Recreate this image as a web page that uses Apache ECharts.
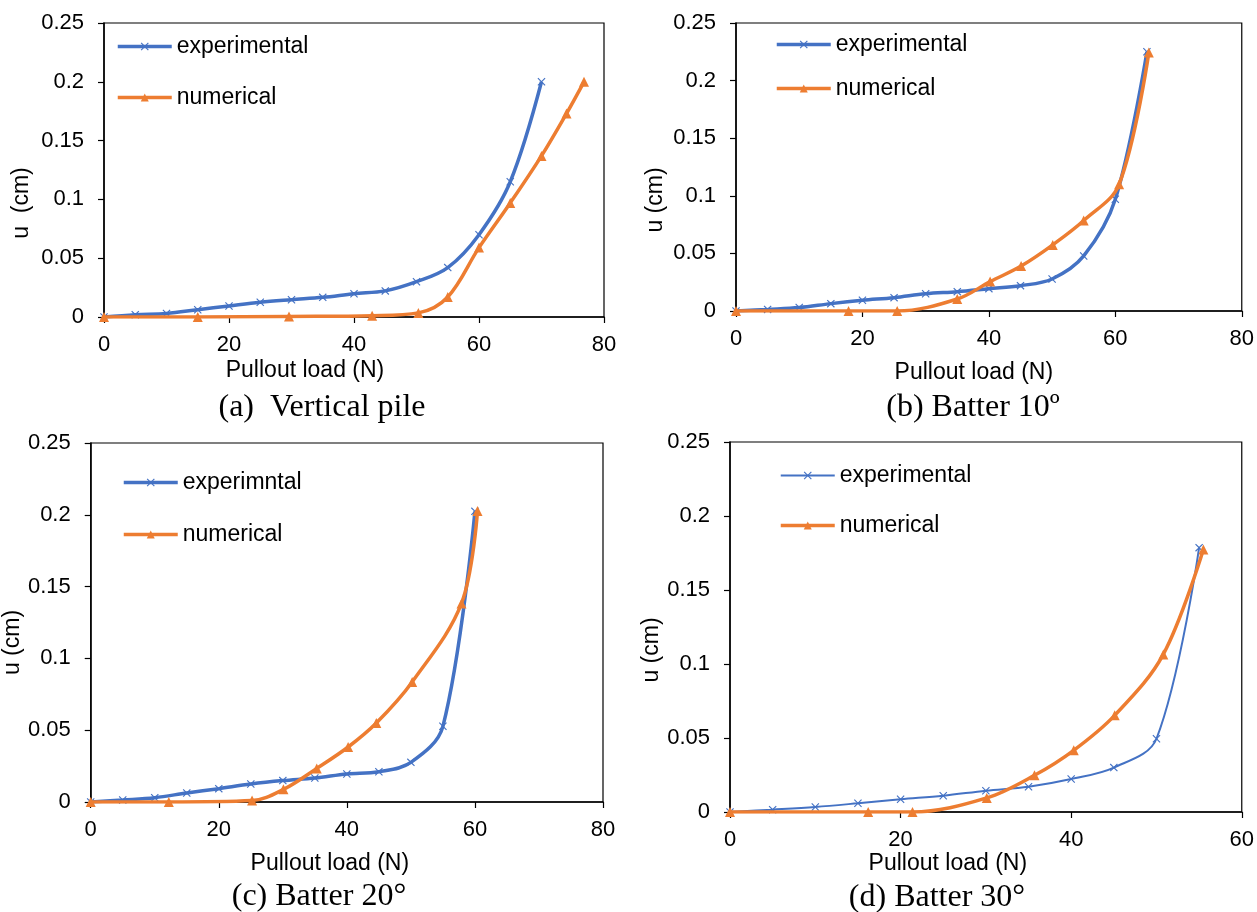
<!DOCTYPE html>
<html>
<head>
<meta charset="utf-8">
<script src="https://cdn.jsdelivr.net/npm/echarts@6/dist/echarts.min.js"></script>
<style>
html,body{margin:0;padding:0;background:#fff;}
#chart{width:1257px;height:912px;}
</style>
</head>
<body>
<div id="chart"></div>
<script>
// ---- data (x: pullout load N, y: u cm) ----
const expA = [[0,0],[5,0.002],[10,0.003],[15,0.0062],[20,0.0094],[25,0.0125],[30,0.0147],[35,0.0167],[40,0.0198],[45,0.0222],[50,0.030],[55,0.042],[60,0.070],[65,0.115],[70,0.200]];
const numA = [[0,0],[15,0],[29.6,0.0005],[42.9,0.0011],[50.3,0.0035],[55,0.017],[60,0.059],[65,0.097],[70,0.137],[74,0.173],[76.8,0.200]];
const expB = [[0,0],[5,0.0014],[10,0.003],[15,0.0064],[20,0.0093],[25,0.0116],[30,0.015],[35,0.0168],[40,0.0194],[45,0.022],[50,0.0278],[55,0.0478],[60,0.097],[65,0.225]];
const numB = [[0,0],[17.8,0],[25.5,0],[35,0.0104],[40.2,0.0255],[45.1,0.039],[50.1,0.0574],[55,0.0785],[60.6,0.110],[65.3,0.2245]];
const expC = [[0,0],[5,0.0014],[10,0.003],[15,0.0063],[20,0.0093],[25,0.0125],[30,0.0149],[35,0.0167],[40,0.0195],[45,0.0211],[50,0.0276],[55,0.0527],[60,0.2024]];
const numC = [[0,0],[12.2,0],[25.2,0.001],[30.1,0.0088],[35.3,0.0234],[40.2,0.0383],[44.6,0.055],[50.2,0.0836],[57.9,0.1383],[60.4,0.2026]];
const expD = [[0,0],[5,0.0016],[10,0.0034],[15,0.0059],[20,0.0086],[25,0.011],[30,0.0144],[35,0.0171],[40,0.0223],[45,0.030],[50,0.0495],[55,0.1786]];
const numD = [[0,0],[16.2,0],[21.4,0],[30.1,0.0095],[35.7,0.0248],[40.3,0.0417],[45.1,0.0653],[50.8,0.1065],[55.5,0.1773]];

const xMax = [80, 80, 80, 60];
const captions = ['(a)  Vertical pile', '(b) Batter 10º', '(c) Batter 20°', '(d) Batter 30°'];
const yNames = ['u  (cm)', 'u (cm)', 'u (cm)', 'u (cm)'];
const xName = 'Pullout load (N)';
const expNames = ['experimental', 'experimental', 'experimntal', 'experimental'];
const numName = 'numerical';

const BLUE = '#4472C4', ORANGE = '#ED7D31';
const SANS = 'Liberation Sans, Arial, sans-serif';
const SERIF = 'Liberation Serif, Times New Roman, serif';
const XSYM = 'path://M0,1L1,0L5,4L9,0L10,1L6,5L10,9L9,10L5,6L1,10L0,9L4,5Z';

const grids = [
  {left:104, top:23, width:500, height:294},
  {left:736, top:23, width:506, height:288},
  {left:90,  top:443, width:513, height:359},
  {left:730, top:442, width:512, height:370}
];
const xNamePad = [98, 30, 34, 76];
const xNameGap = [42, 50, 50, 37];
const yNamePad = [66, 66, 40, 46];
const yNameGap = [71, 69, 59, 59];
const legendPos = [
  {left:116, top:35, gap:28},
  {left:775, top:33, gap:21},
  {left:122, top:471, gap:29},
  {left:779, top:464, gap:27}
];
const captionPos = [[322,408],[973,408],[319,897],[937,898]];

const chart = echarts.init(document.getElementById('chart'));

const xAxis = grids.map((g,i)=>({
  type:'value', gridIndex:i, min:0, max:xMax[i], interval:20,
  name:xName, nameLocation:'middle', nameGap:xNameGap[i],
  nameTextStyle:{fontFamily:SANS, fontSize:23, color:'#000', padding:[0,xNamePad[i],0,0]},
  axisLine:{show:true, onZero:false, lineStyle:{color:'#000', width:1.5}},
  axisTick:{show:true, inside:false, length:6, lineStyle:{color:'#000', width:1.2}},
  axisLabel:{fontFamily:SANS, fontSize:22, color:'#000', margin:17},
  splitLine:{show:false}
}));
const yAxis = grids.map((g,i)=>({
  type:'value', gridIndex:i, min:0, max:0.25, interval:0.05,
  name:yNames[i], nameLocation:'middle', nameGap:yNameGap[i], nameRotate:90,
  nameTextStyle:{fontFamily:SANS, fontSize:23, color:'#000', padding:[0,yNamePad[i],0,0]},
  axisLine:{show:true, onZero:false, lineStyle:{color:'#000', width:1.5}},
  axisTick:{show:true, inside:false, length:6, lineStyle:{color:'#000', width:1.2}},
  axisLabel:{fontFamily:SANS, fontSize:22, color:'#000', margin:20},
  splitLine:{show:false}
}));

const expData = [expA, expB, expC, expD];
const numData = [numA, numB, numC, numD];
const expWidth = [3.5, 3.5, 3.5, 2];
const series = [];
for (let i=0;i<4;i++){
  series.push({
    type:'line', name:expNames[i], xAxisIndex:i, yAxisIndex:i, data:expData[i],
    smooth:0.35, symbol:XSYM, symbolSize:8, showSymbol:true,
    lineStyle:{color:BLUE, width:expWidth[i]}, itemStyle:{color:BLUE},
    z:2, animation:false
  });
  series.push({
    type:'line', name:numName, xAxisIndex:i, yAxisIndex:i, data:numData[i],
    smooth:0.35, symbol:'triangle', symbolSize:10, showSymbol:true,
    lineStyle:{color:ORANGE, width:3.5}, itemStyle:{color:ORANGE},
    z:3, animation:false
  });
}

const legend = legendPos.map((p,i)=>({
  orient:'vertical', left:p.left, top:p.top, itemGap:p.gap, padding:0,
  itemWidth:54, itemHeight:10,
  textStyle:{fontFamily:SANS, fontSize:23, color:'#000'},
  data:[
    {name:expNames[i], lineStyle:{width:expWidth[i], color:BLUE}, itemStyle:{color:BLUE}},
    {name:numName, lineStyle:{width:3.5, color:ORANGE}, itemStyle:{color:ORANGE}}
  ],
  selectedMode:false
}));

const graphic = captions.map((c,i)=>({
  type:'text', x:captionPos[i][0], y:captionPos[i][1],
  style:{text:c, align:'center', verticalAlign:'middle', fontFamily:SERIF, fontSize:32, fill:'#000'}
}));

chart.setOption({
  animation:false,
  backgroundColor:'#fff',
  grid:grids.map(g=>Object.assign({show:true, borderColor:'#000', borderWidth:1.2, backgroundColor:'transparent'}, g)),
  xAxis, yAxis, series, legend, graphic
});
</script>
</body>
</html>
